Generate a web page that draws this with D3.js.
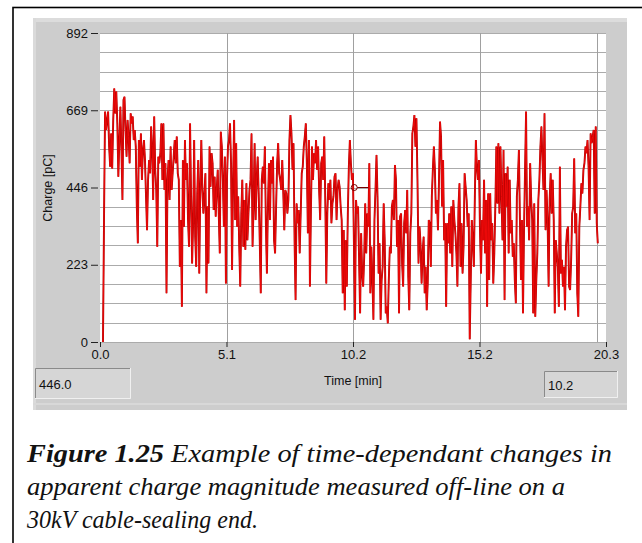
<!DOCTYPE html>
<html><head><meta charset="utf-8">
<script src="https://cdn.jsdelivr.net/npm/d3@7"></script>
<style>body{margin:0;background:#fff}svg{display:block}</style>
</head><body>
<svg id="c" width="642" height="543"></svg>
<script>
// ---- data ----
const yTickValues = [0, 223, 446, 669, 892];
const xTickValues = [0, 5.075, 10.15, 15.225, 20.3];
const xTickLabels = ["0.0", "5.1", "10.2", "15.2", "20.3"];
const sampleStart = 0.12, sampleEnd = 19.97;   // minutes
const charge = [
0,352,665,612,641,665,564,506,602,501,641,732,660,723,631,477,583,679,554,410,699,708,612,535,641,593,516,660,631,651,583,612,564,391,285,583,506,602,468,554,583,525,420,323,468,525,487,622,564,410,651,497,439,275,535,516,545,631,468,631,439,516,141,468,525,410,564,439,487,535,583,516,593,487,468,217,352,102,525,333,583,468,516,352,275,631,420,227,343,583,304,217,429,525,198,448,583,439,371,429,487,141,391,227,564,448,545,516,381,477,362,439,497,371,
256,607,564,468,333,535,169,468,564,583,631,516,208,468,641,352,574,333,420,275,160,371,468,275,410,266,458,294,371,439,468,602,275,391,574,352,468,535,429,294,141,468,506,458,564,343,198,391,516,352,525,458,535,294,256,391,516,574,487,468,439,525,429,323,439,429,371,410,583,655,602,497,574,294,121,400,343,381,256,371,487,506,564,593,631,516,314,583,160,381,564,468,545,516,583,497,564,439,352,516,535,468,593,410,169,371,458,410,468,343,400,420,477,487,352,439,468,448,391,352,141,323,92,294,160,371,
506,583,516,468,487,275,64,410,371,391,237,83,314,198,160,246,400,256,371,333,516,141,275,179,64,352,439,540,420,198,285,64,179,217,400,294,83,102,54,179,275,256,391,410,352,511,468,275,352,83,362,371,227,160,343,381,314,439,189,92,314,371,602,622,655,564,646,468,227,333,285,169,256,304,141,217,92,169,352,343,217,420,497,564,497,371,410,323,468,636,593,391,525,294,343,102,343,285,371,256,391,217,410,352,314,256,160,391,458,217,343,198,275,487,448,410,333,371,8,179,352,294,217,420,583,506,468,
525,323,198,352,294,468,256,410,102,429,179,429,294,343,169,256,391,564,400,574,371,564,420,294,554,121,487,391,506,256,468,314,352,246,285,179,112,420,468,554,352,179,352,83,323,497,665,333,391,294,516,410,352,83,400,73,179,256,410,468,564,622,525,439,660,323,439,352,160,410,487,371,468,352,83,294,256,217,102,506,198,237,160,217,92,275,323,333,160,150,237,371,391,530,314,371,141,73,333,391,458,429,497,516,564,545,583,506,352,602,574,593,612,371,622,343,285
];
const cursorTime = 10.2, cursorCharge = 446.0;
const cursorEndTime = 19.95;
const readouts = ["446.0", "10.2"];
const yLabel = "Charge [pC]", xLabel = "Time [min]";
const captionBold = "Figure 1.25";
const captionLines = [" Example of time-dependant changes in",
  "apparent charge magnitude measured off-line on a",
  "30kV cable-sealing end."];

// ---- drawing ----
const svg = d3.select("#c");
svg.append("rect").attr("x",13).attr("y",7.5).attr("width",700).attr("height",600)
  .attr("fill","#fff").attr("stroke","#000").attr("stroke-width",1.6);

// gray panel
svg.append("rect").attr("x",33).attr("y",18).attr("width",594).attr("height",392).attr("fill","#cdcdcd");
svg.append("rect").attr("x",33).attr("y",18).attr("width",594).attr("height",4).attr("fill","#dcdcdc");
svg.append("rect").attr("x",33).attr("y",18).attr("width",3).attr("height",392).attr("fill","#dadada");
svg.append("rect").attr("x",33).attr("y",403).attr("width",594).attr("height",2).attr("fill","#d8d8d8");

const L=100, R=606, T=33, B=342;
const x = d3.scaleLinear().domain([0,20.3]).range([L,R]);
const y = d3.scaleLinear().domain([0,892]).range([B,T]);

svg.append("rect").attr("x",L).attr("y",T).attr("width",R-L).attr("height",B-T).attr("fill","#fff");

// grid
const gridY = d3.range(0, 892.01, 892/16);
svg.append("g").selectAll("line").data(gridY).join("line")
  .attr("x1",L).attr("x2",R).attr("y1",d=>Math.round(y(d))+0.5).attr("y2",d=>Math.round(y(d))+0.5)
  .attr("stroke","#ababab").attr("stroke-width",1);
svg.append("g").selectAll("line").data(xTickValues.slice(1,4).concat([cursorEndTime])).join("line")
  .attr("x1",d=>Math.round(x(d))+0.5).attr("x2",d=>Math.round(x(d))+0.5).attr("y1",T).attr("y2",B)
  .attr("stroke","#a0a0a0").attr("stroke-width",1);

// trace
const n = charge.length;
const t = i => sampleStart + i*(sampleEnd-sampleStart)/(n-1);
const line = d3.line().x((d,i)=>x(t(i))).y(d=>y(d));
svg.append("path").datum(charge).attr("d",line).attr("fill","none")
  .attr("stroke","#b00000").attr("stroke-width",1.9).attr("stroke-linejoin","miter");
svg.append("path").datum(charge).attr("d",line).attr("fill","none")
  .attr("stroke","#ee0a0a").attr("stroke-width",1.0).attr("stroke-linejoin","miter");

// cursor
const cx = x(cursorTime), cy = y(cursorCharge);
svg.append("circle").attr("cx",cx).attr("cy",cy).attr("r",3).attr("fill","none").attr("stroke","#700").attr("stroke-width",1);
svg.append("line").attr("x1",cx+3).attr("x2",cx+14).attr("y1",cy).attr("y2",cy).attr("stroke","#700").attr("stroke-width",1);

// axes
const font = "'Liberation Sans', Arial, sans-serif";
const ya = svg.append("g").attr("transform",`translate(98,0)`)
  .call(d3.axisLeft(y).tickValues(yTickValues).tickSize(7).tickPadding(3).tickFormat(d3.format("d")));
const xa = svg.append("g").attr("transform",`translate(0,${B})`)
  .call(d3.axisBottom(x).tickValues(xTickValues).tickSize(5).tickPadding(3).tickFormat((d,i)=>xTickLabels[i]));
[ya,xa].forEach(g=>{
  g.select(".domain").remove();
  g.selectAll(".tick line").attr("stroke","#222");
  g.selectAll("text").attr("font-family",font).attr("font-size",13).attr("fill","#111");
});

svg.append("text").attr("transform","translate(52,188) rotate(-90)").attr("text-anchor","middle")
  .attr("font-family",font).attr("font-size",12.5).attr("fill","#111").text(yLabel);
svg.append("text").attr("x",353).attr("y",385).attr("text-anchor","middle")
  .attr("font-family",font).attr("font-size",12.5).attr("fill","#111").text(xLabel);

// readout boxes
const boxes = [{x:35,y:368,w:96,h:31},{x:544,y:371,w:74,h:27}];
boxes.forEach((b,i)=>{
  svg.append("rect").attr("x",b.x).attr("y",b.y).attr("width",b.w).attr("height",b.h).attr("fill","#d6d6d6");
  svg.append("path").attr("d",`M${b.x+0.5},${b.y+b.h}V${b.y+0.5}H${b.x+b.w}`).attr("fill","none").attr("stroke","#8a8a8a");
  svg.append("path").attr("d",`M${b.x+b.w-0.5},${b.y}V${b.y+b.h-0.5}H${b.x}`).attr("fill","none").attr("stroke","#f0f0f0");
  svg.append("text").attr("x",b.x+4).attr("y",b.y+b.h/2+5).attr("font-family",font).attr("font-size",13)
    .attr("fill","#111").text(readouts[i]);
});

// caption
const serif = "'Liberation Serif', 'Times New Roman', serif";
const widths = [585, 538, 231];
const baselines = [462, 495, 528];
captionLines.forEach((s,i)=>{
  const tx = svg.append("text").attr("x",27).attr("y",baselines[i]).attr("font-family",serif)
    .attr("font-size",26).attr("font-style","italic").attr("fill","#111")
    .attr("textLength",widths[i]).attr("lengthAdjust","spacingAndGlyphs");
  if(i===0) tx.append("tspan").attr("font-weight","bold").text(captionBold);
  tx.append("tspan").text(s);
});
</script>
</body></html>
